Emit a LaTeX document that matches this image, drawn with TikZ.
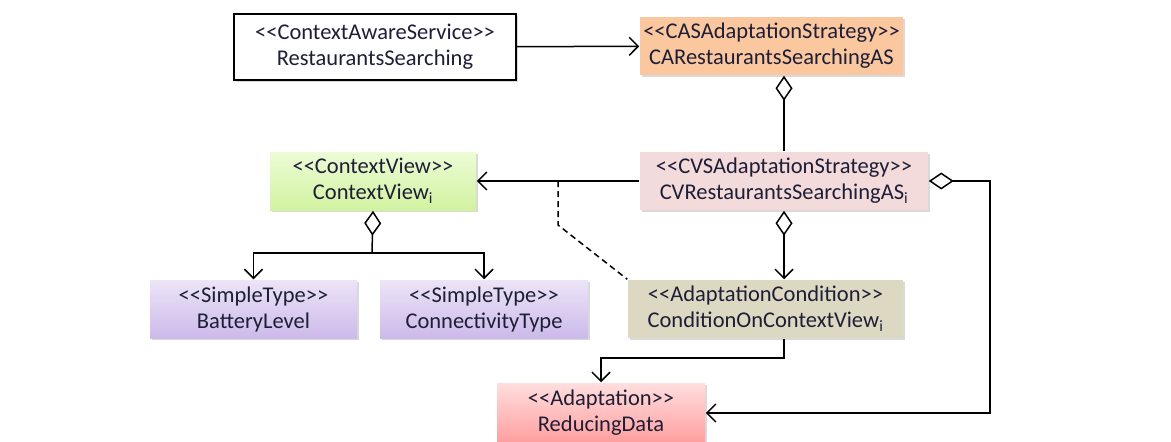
\documentclass[tikz,border=0pt]{standalone}
\usepackage{fontspec}
\setmainfont{Carlito}[Ligatures=TeXOff]
\usetikzlibrary{arrows.meta}
\usetikzlibrary{shadows}
\definecolor{txt}{RGB}{30,30,55}
\definecolor{casfill}{RGB}{250,199,158}
\definecolor{cvsfill}{RGB}{242,219,218}
\definecolor{cvtop}{RGB}{236,252,214}
\definecolor{cvbot}{RGB}{210,242,160}
\definecolor{sttop}{RGB}{236,228,247}
\definecolor{stbot}{RGB}{204,186,234}
\definecolor{condfill}{RGB}{221,216,194}
\definecolor{adtop}{RGB}{255,222,222}
\definecolor{adbot}{RGB}{255,158,158}
\tikzset{dia/.tip={Diamond[open,fill=white,length=25pt,width=17pt]},
  bar/.tip={Straight Barb[length=9pt,width=18pt]}}
\tikzstyle{classbox}=[align=center,inner sep=0pt,text=txt,font=\fontsize{22.5}{26}\selectfont,
  drop shadow={opacity=0.3,shadow xshift=2pt,shadow yshift=-2pt}]
\tikzstyle{dep}=[-bar]
\tikzstyle{agg}=[dia-]
\tikzstyle{aggdep}=[dia-bar]
\newcommand{\idx}{\textsubscript{i}}

\begin{document}
\begin{tikzpicture}[x=1pt,y=-1pt,line width=1.5pt]
\useasboundingbox (0,0) rectangle (1171,442);
\node [classbox,draw,fill=white,line width=2pt,drop shadow={opacity=0},minimum width=282pt,minimum height=66pt] (rs) at (375,47)
  {<<ContextAwareService>>\\RestaurantsSearching};
\node [classbox,fill=casfill,minimum width=263pt,minimum height=58pt] (cas) at (771.5,46)
  {<<CASAdaptationStrategy>>\\CARestaurantsSearchingAS};
\node [classbox,fill=cvsfill,minimum width=288pt,minimum height=58pt] (cvs) at (784,181)
  {<<CVSAdaptationStrategy>>\\CVRestaurantsSearchingAS\idx};
\node [classbox,top color=cvtop,bottom color=cvbot,minimum width=206pt,minimum height=58pt] (cv) at (373,181)
  {<<ContextView>>\\ContextView\idx};
\node [classbox,top color=sttop,bottom color=stbot,minimum width=207pt,minimum height=58pt] (bat) at (253.5,309)
  {<<SimpleType>>\\BatteryLevel};
\node [classbox,top color=sttop,bottom color=stbot,minimum width=208pt,minimum height=58pt] (conn) at (484,309)
  {<<SimpleType>>\\ConnectivityType};
\node [classbox,fill=condfill,minimum width=275pt,minimum height=58pt] (cond) at (765.5,309)
  {<<AdaptationCondition>>\\ConditionOnContextView\idx};
\node [classbox,top color=adtop,bottom color=adbot,minimum width=208pt,minimum height=60pt] (red) at (601,413)
  {<<Adaptation>>\\ReducingData};

% links
\draw [dep] (rs) -- (cas);
\draw [agg] (cvs.north |- cas.south) -- (cvs.north);
\draw [dep] (cvs.west) -- (cv.east) coordinate [pos=0.5] (dj);
\draw [dashed,dash pattern=on 6pt off 4pt] (dj) -- ++(0,44) -- (cond.north west);
\draw [agg] (cv.south) -- (372,253) coordinate (cvj);
\draw [dep] (cvj) -| (bat.north);
\draw [dep] (cvj) -| (conn.north);
\draw [aggdep] (cvs.south) -- (cvs.south |- cond.north);
\draw [aggdep] (cvs.east) -- (990,181) |- (red.east);
\draw [dep] (cvs.south |- cond.south) -- (784,358) -| (red.north);
\end{tikzpicture}
\end{document}
